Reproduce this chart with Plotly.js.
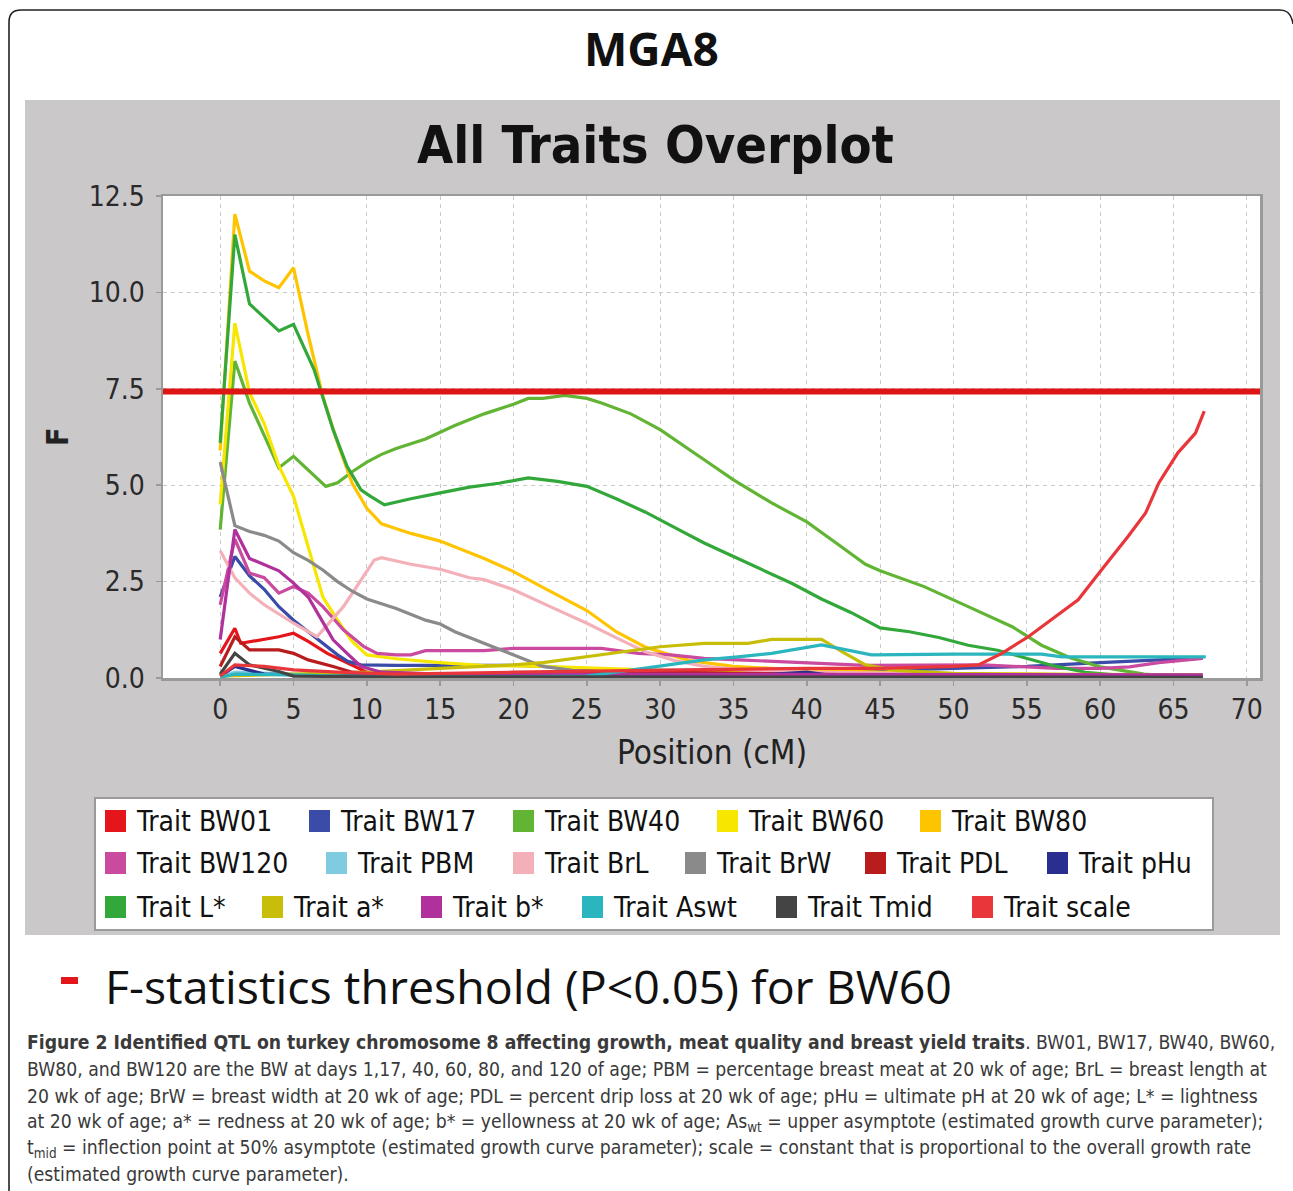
<!DOCTYPE html>
<html>
<head>
<meta charset="utf-8">
<script src="https://cdn.plot.ly/plotly-3.0.1.min.js"></script>
<style>
html,body{margin:0;padding:0;background:#fff;}
#chart{width:1293px;height:1191px;}
</style>
</head>
<body>
<div id="chart"></div>
<script>
// ---------------- DATA ----------------
const traitNames = ['Trait BW01','Trait BW17','Trait BW40','Trait BW60','Trait BW80',
  'Trait BW120','Trait PBM','Trait BrL','Trait BrW','Trait PDL','Trait pHu',
  'Trait L*','Trait a*','Trait b*','Trait Aswt','Trait Tmid','Trait scale'];

const bw01Pos = [0,1,1.4,3,4,5,6,7.3,8.7,10,15,25,40,67];
const bw01F   = [0.64,1.29,0.9,1.0,1.07,1.16,0.95,0.64,0.38,0.15,0.05,0.05,0.05,0.03];

const bw17Pos = [0,1,2,3,4,5,6,7,8,8.7,9.6,12,15,20,22,25,30,35,40,45,50,55,60,65,67];
const bw17F   = [2.1,3.15,2.65,2.3,1.85,1.5,1.2,0.9,0.6,0.43,0.34,0.33,0.33,0.33,0.3,0.22,0.2,0.2,0.2,0.2,0.25,0.3,0.4,0.5,0.52];

const bw40Pos = [0,1,2,3,4,5,6,7.2,8,9,10,11,12,14,16,18,20,21,22,23.5,25,26,28,30,33,35,37.6,40,42,44,45,48,51,54,56,58,60,63,65];
const bw40F   = [3.85,8.22,7.13,6.3,5.45,5.75,5.4,4.97,5.06,5.35,5.6,5.8,5.95,6.2,6.55,6.85,7.1,7.25,7.25,7.33,7.25,7.13,6.85,6.44,5.66,5.14,4.54,4.05,3.5,2.95,2.78,2.37,1.85,1.33,0.85,0.52,0.29,0.1,0.05];

const bw60Pos = [0,1,2,3,4,5,6,7,8,9,10,12,15,18,22,26,30,40,50,60,67];
const bw60F   = [4.5,9.2,7.4,6.6,5.5,4.71,3.4,2.1,1.5,0.95,0.6,0.5,0.4,0.32,0.3,0.25,0.2,0.15,0.1,0.08,0.05];

const bw80Pos = [0,1,2,3,4,5,6,7,8,9,10,11,13,15,18,20,22,25,27,29,30,32,35,40,45,50,55,60,67];
const bw80F   = [5.9,12.03,10.55,10.3,10.12,10.64,8.9,7.3,6.1,5.05,4.4,4.0,3.75,3.55,3.1,2.76,2.35,1.75,1.2,0.8,0.68,0.45,0.3,0.2,0.15,0.1,0.1,0.08,0.05];

const bw120Pos = [0,1,2,3,4,5,6,7,8.4,9.8,10.7,12,13,14,18,20,26,28.5,30.7,33,35.3,40,44,52,57,60,62,64,67];
const bw120F   = [1.9,3.6,2.72,2.6,2.2,2.37,2.2,1.85,1.25,0.81,0.64,0.6,0.6,0.71,0.71,0.77,0.77,0.64,0.6,0.51,0.47,0.4,0.33,0.34,0.25,0.25,0.29,0.4,0.51];

const pbmPos = [0,1,5,20,40,67];
const pbmF   = [0.02,0.15,0.1,0.05,0.1,0.05];

const brlPos = [0,1,2,3,5,6.6,8.4,10.5,11,13,15,17,18,20,22.5,25,27.3,29,31,33,36,40,50,67];
const brlF   = [3.3,2.6,2.2,1.9,1.42,1.07,1.85,3.06,3.12,2.95,2.82,2.6,2.55,2.29,1.85,1.42,0.99,0.68,0.45,0.3,0.2,0.15,0.1,0.05];

const brwPos = [0,1,2,3,4,5,6,7,8,9,10,12,14,15,16,18,20,22,24,26,35,50,67];
const brwF   = [5.6,3.95,3.8,3.7,3.55,3.25,3.05,2.8,2.5,2.25,2.05,1.8,1.5,1.4,1.2,0.9,0.6,0.3,0.2,0.15,0.1,0.08,0.05];

const pdlPos = [0,1,2,4,5,6,7.7,9,12,20,30,40,50,67];
const pdlF   = [0.3,1.07,0.73,0.73,0.64,0.47,0.3,0.15,0.1,0.1,0.15,0.1,0.05,0.05];

const phuPos = [0,1,3,10,20,30,37,40,42,50,67];
const phuF   = [0.05,0.3,0.1,0.05,0.08,0.05,0.08,0.15,0.05,0.03,0.02];

const lstarPos = [0,1,2,3,4,5,6.4,7.7,8.65,9.6,10.25,11.2,13,15,17,19,21,23,25,27,29,31,33,35,37,39,41,43,45,47,49,51,53,55,57,59,61,63,65];
const lstarF   = [6.1,11.5,9.7,9.35,9.0,9.17,8.0,6.44,5.49,4.88,4.71,4.49,4.65,4.8,4.95,5.05,5.19,5.1,4.97,4.65,4.3,3.9,3.5,3.15,2.8,2.45,2.05,1.7,1.3,1.2,1.05,0.85,0.72,0.52,0.3,0.15,0.08,0.05,0.04];

const astarPos = [0,5,10,15,20,22,25,28,30,33,36,37.6,41,42.6,44,46,50,55,60,67];
const astarF   = [0.05,0.1,0.15,0.25,0.34,0.4,0.55,0.7,0.81,0.9,0.9,1.0,1.0,0.64,0.34,0.2,0.12,0.1,0.1,0.08];

const bstarPos = [0,1,2,3,4,5,6,7,7.7,8.65,9.6,11,15,20,30,40,50,60,67];
const bstarF   = [1.0,3.85,3.1,2.95,2.78,2.46,2.1,1.45,0.99,0.64,0.3,0.15,0.1,0.1,0.1,0.1,0.08,0.08,0.08];

const aswtPos = [0,1,5,10,20,25,29.6,33,35.3,37.6,41,42.6,44.4,50,56,57.4,67.2];
const aswtF   = [0.02,0.1,0.08,0.03,0.03,0.05,0.29,0.47,0.55,0.64,0.86,0.73,0.6,0.62,0.62,0.55,0.55];

const tmidPos = [0,1,2,4,5,10,67];
const tmidF   = [0.1,0.64,0.34,0.17,0.05,0.03,0.02];

const scalePos = [0,1,3,5,8,12,20,30,40,45,50,51.7,53.3,55.1,56.9,58.5,60.1,61.9,63.1,64,65.3,66.5,67.1];
const scaleF   = [0.05,0.34,0.3,0.21,0.15,0.1,0.15,0.2,0.25,0.25,0.3,0.34,0.64,1.07,1.59,2.03,2.81,3.67,4.28,5.06,5.84,6.35,6.92];

const thresholdF = 7.43;           // F-statistics threshold (P<0.05) for BW60
const xTickValues = [0,5,10,15,20,25,30,35,40,45,50,55,60,65,70];
const yTickValues = [0,2.5,5,7.5,10,12.5];

const traitPos = [bw01Pos,bw17Pos,bw40Pos,bw60Pos,bw80Pos,bw120Pos,pbmPos,brlPos,brwPos,pdlPos,phuPos,lstarPos,astarPos,bstarPos,aswtPos,tmidPos,scalePos];
const traitF   = [bw01F,bw17F,bw40F,bw60F,bw80F,bw120F,pbmF,brlF,brwF,pdlF,phuF,lstarF,astarF,bstarF,aswtF,tmidF,scaleF];

// ---------------- STYLE ----------------
const traitColors = ['#E4161C','#3A4BA8','#62B534','#F6E600','#FFC400',
  '#C94A9E','#7FCCE0','#F4B0B8','#8A8A8A','#B81C1C','#2A2F8F',
  '#33A83A','#C8BE0A','#B0309C','#2BB5BF','#444444','#E8363A'];
const legendRows = [[0,1,2,3,4],[5,6,7,8,9,10],[11,12,13,14,15,16]];
const legendRowY = [821,863,907];
const legendSqX  = [[105,309,513,717,920],[105,326,513,685,865,1047],[105,262,421,582,776,972]];

// plot area in page pixels
const L=163, R=1260, T=196, B=678;
const px = x => (x-L)/(R-L);
const py = y => (B-y)/(B-T);

const condensed = '"DejaVu Sans Condensed", "DejaVu Sans", sans-serif';

const traces = traitNames.map((n,i)=>({
  type:'scatter', mode:'lines', name:n,
  x:traitPos[i], y:traitF[i],
  line:{color:traitColors[i], width:3.2},
  hoverinfo:'skip', showlegend:false
}));
const xr = [-3.9, 70.9];
traces.push({type:'scatter', mode:'lines', x:xr, y:[thresholdF,thresholdF],
  line:{color:'#DD1515', width:6}, hoverinfo:'skip', showlegend:false, cliponaxis:false});

const shapes = [];
const annotations = [];

// outer rounded frame
shapes.push({type:'path', xref:'paper', yref:'paper', layer:'below',
  path:`M ${px(9)},${py(1195)} L ${px(9)},${py(22)} Q ${px(9)},${py(10)} ${px(21)},${py(10)} L ${px(1280)},${py(10)} Q ${px(1291)},${py(10)} ${px(1293)},${py(24)}`,
  line:{color:'#222', width:1.6}});
// gray chart panel
shapes.push({type:'rect', xref:'paper', yref:'paper', layer:'below',
  x0:px(25), x1:px(1280), y0:py(100), y1:py(935), fillcolor:'#CAC8C9', line:{width:0}});
// white plot area
shapes.push({type:'rect', xref:'paper', yref:'paper', layer:'below',
  x0:0, x1:1, y0:0, y1:1, fillcolor:'#FFFFFF', line:{width:0}});
// legend box
shapes.push({type:'rect', xref:'paper', yref:'paper', layer:'below',
  x0:px(95), x1:px(1213), y0:py(798), y1:py(930), fillcolor:'#FFFFFF', line:{color:'#9A9A9A', width:2}});
legendRows.forEach((row,r)=>{
  row.forEach((ti,k)=>{
    const sx = legendSqX[r][k], cy = legendRowY[r];
    shapes.push({type:'rect', xref:'paper', yref:'paper', layer:'above',
      x0:px(sx), x1:px(sx+21), y0:py(cy+11), y1:py(cy-11),
      fillcolor:traitColors[ti], line:{width:0}});
    annotations.push({xref:'paper', yref:'paper', x:px(sx+29), y:py(cy), xanchor:'left', yanchor:'middle',
      text:traitNames[ti], showarrow:false, font:{family:condensed, size:28, color:'#111'}});
  });
});
// red dash before threshold text
shapes.push({type:'rect', xref:'paper', yref:'paper', layer:'above',
  x0:px(61), x1:px(78), y0:py(984), y1:py(977), fillcolor:'#E3161C', line:{width:0}});

// titles
annotations.push({xref:'paper', yref:'paper', x:px(651), y:py(48), xanchor:'center', yanchor:'middle',
  text:'<b>MGA8</b>', showarrow:false, font:{family:'"Open Sans", sans-serif', size:46, color:'#111'}});
annotations.push({xref:'paper', yref:'paper', x:px(655), y:py(145), xanchor:'center', yanchor:'middle',
  text:'<b>All Traits Overplot</b>', showarrow:false, font:{family:condensed, size:52, color:'#111'}});
annotations.push({xref:'paper', yref:'paper', x:px(712), y:py(752), xanchor:'center', yanchor:'middle',
  text:'Position (cM)', showarrow:false, font:{family:condensed, size:33, color:'#222'}});
annotations.push({xref:'paper', yref:'paper', x:px(57), y:py(437), xanchor:'center', yanchor:'middle',
  text:'<b>F</b>', textangle:-90, showarrow:false, font:{family:condensed, size:30, color:'#222'}});
annotations.push({xref:'paper', yref:'paper', x:px(103), y:py(986), xanchor:'left', yanchor:'middle',
  text:'F-statistics threshold (P<0.05) for BW60', showarrow:false, font:{family:'"Open Sans", sans-serif', size:46.5, color:'#111'}});

// caption
const captionLines = [
  '<b>Figure 2 Identified QTL on turkey chromosome 8 affecting growth, meat quality and breast yield traits</b>. BW01, BW17, BW40, BW60,',
  'BW80, and BW120 are the BW at days 1,17, 40, 60, 80, and 120 of age; PBM = percentage breast meat at 20 wk of age; BrL = breast length at',
  '20 wk of age; BrW = breast width at 20 wk of age; PDL = percent drip loss at 20 wk of age; pHu = ultimate pH at 20 wk of age; L* = lightness',
  'at 20 wk of age; a* = redness at 20 wk of age; b* = yellowness at 20 wk of age; As<sub>wt</sub> = upper asymptote (estimated growth curve parameter);',
  't<sub>mid</sub> = inflection point at 50% asymptote (estimated growth curve parameter); scale = constant that is proportional to the overall growth rate',
  '(estimated growth curve parameter).'
];
const captionY = [1042,1069,1096,1122,1148,1174];
captionLines.forEach((t,i)=>{
  annotations.push({xref:'paper', yref:'paper', x:px(25), y:py(captionY[i]), xanchor:'left', yanchor:'middle',
    text:t, showarrow:false, font:{family:condensed, size:19.2, color:'#3A3A3A'}});
});

const axisCommon = {
  showline:true, mirror:true, linecolor:'#9A9A9A', linewidth:2.5,
  ticks:'outside', ticklen:5, tickcolor:'#9A9A9A', tickwidth:1.5,
  showgrid:true, gridcolor:'#C9C9C9', gridwidth:1, griddash:'4px,4px',
  zeroline:false, tickfont:{family:condensed, size:28, color:'#2A2A2A'},
  fixedrange:true
};

const layout = {
  width:1293, height:1191,
  margin:{l:L, r:1293-R, t:T, b:1191-B, pad:0},
  paper_bgcolor:'#FFFFFF', plot_bgcolor:'rgba(0,0,0,0)',
  showlegend:false,
  xaxis:Object.assign({}, axisCommon, {range:xr, tickvals:xTickValues, ticktext:xTickValues.map(String), ticklabelstandoff:0}),
  yaxis:Object.assign({}, axisCommon, {range:[0,12.5], tickvals:yTickValues, ticktext:yTickValues.map(v=>v.toFixed(1)), ticklabelstandoff:5}),
  shapes:shapes, annotations:annotations
};

Plotly.newPlot('chart', traces, layout, {displayModeBar:false, staticPlot:true});
</script>
</body>
</html>
